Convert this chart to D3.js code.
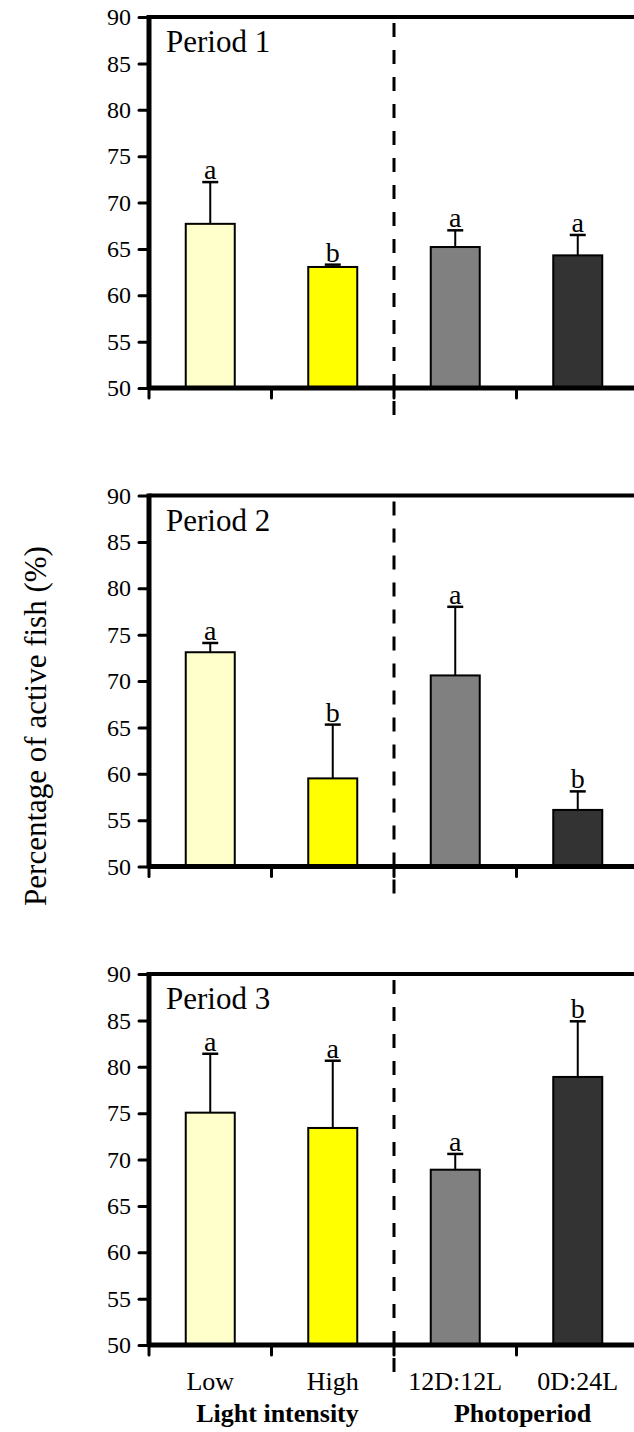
<!DOCTYPE html>
<html>
<head>
<meta charset="utf-8">
<script src="https://cdn.jsdelivr.net/npm/d3@7"></script>
<style>
  body { margin: 0; background: #fff; }
  svg text { font-family: "Liberation Serif", "DejaVu Serif", serif; fill: #000; }
</style>
</head>
<body>
<div id="chart"></div>
<script>
// data
const categories = ["Low", "High", "12D:12L", "0D:24L"];
const periods = ["Period 1", "Period 2", "Period 3"];
const means = [
  [67.7, 63.05, 65.2, 64.3],
  [73.1, 59.5, 70.6, 56.1],
  [75.05, 73.4, 68.9, 78.9]
];
const errors = [
  [4.5, 0.25, 1.8, 2.2],
  [1.0, 5.8, 7.4, 2.0],
  [6.35, 7.25, 1.7, 6.0]
];
const letters = [
  ["a", "b", "a", "a"],
  ["a", "b", "a", "b"],
  ["a", "a", "a", "b"]
];
const yTicks = [50, 55, 60, 65, 70, 75, 80, 85, 90];
const groups = ["Light intensity", "Photoperiod"];
const colors = ["#ffffcc", "#ffff00", "#808080", "#333333"];

const width = 634, height = 1432;
const left = 149, right = 639;
const panelTop = [17, 495.5, 974];
const panelH = 371;
const serif = "'Liberation Serif', 'DejaVu Serif', serif";

const svg = d3.select("#chart").append("svg")
    .attr("width", width)
    .attr("height", height)
    .attr("font-family", serif);

const x = d3.scaleBand()
    .domain(categories)
    .range([left, right])
    .paddingInner(0.6)
    .paddingOuter(0.3);

// band boundaries for the x ticks
const bounds = categories.map(c => x(c) - x.step() * 0.3).concat([right]);

periods.forEach((p, i) => {
  const top = panelTop[i];
  const bottom = top + panelH;
  const y = d3.scaleLinear().domain([50, 90]).range([bottom, top]);
  const g = svg.append("g");

  // y axis
  const yAxis = g.append("g")
      .attr("transform", `translate(${left},0)`)
      .call(d3.axisLeft(y).tickValues(yTicks).tickSize(10).tickPadding(8));
  yAxis.attr("font-family", serif).attr("font-size", 24);
  yAxis.select(".domain").remove();
  yAxis.selectAll(".tick line").attr("stroke", "#000").attr("stroke-width", 3).attr("stroke-linecap", "round");
  yAxis.selectAll(".tick text").attr("fill", "#000");

  // bars
  g.selectAll("rect.bar")
    .data(categories)
    .enter()
    .append("rect")
      .attr("class", "bar")
      .attr("x", d => x(d))
      .attr("width", x.bandwidth())
      .attr("y", (d, j) => y(means[i][j]))
      .attr("height", (d, j) => y(50) - y(means[i][j]))
      .attr("fill", (d, j) => colors[j])
      .attr("stroke", "#000")
      .attr("stroke-width", 2);

  // error bars
  const cx = d => x(d) + x.bandwidth() / 2;
  g.selectAll("line.err")
    .data(categories)
    .enter()
    .append("line")
      .attr("x1", cx).attr("x2", cx)
      .attr("y1", (d, j) => y(means[i][j]))
      .attr("y2", (d, j) => y(means[i][j] + errors[i][j]))
      .attr("stroke", "#000")
      .attr("stroke-width", 2);
  g.selectAll("line.cap")
    .data(categories)
    .enter()
    .append("line")
      .attr("x1", d => cx(d) - 8).attr("x2", d => cx(d) + 8)
      .attr("y1", (d, j) => y(means[i][j] + errors[i][j]))
      .attr("y2", (d, j) => y(means[i][j] + errors[i][j]))
      .attr("stroke", "#000")
      .attr("stroke-width", 2.5);

  // significance letters
  g.selectAll("text.sig")
    .data(categories)
    .enter()
    .append("text")
      .attr("x", cx)
      .attr("y", (d, j) => y(means[i][j] + errors[i][j]) - 3)
      .attr("text-anchor", "middle")
      .attr("font-size", 28)
      .text((d, j) => letters[i][j]);

  // frame: top line, left axis, bottom axis
  g.append("line")
      .attr("x1", left).attr("x2", right)
      .attr("y1", top).attr("y2", top)
      .attr("stroke", "#000").attr("stroke-width", 4);
  g.append("line")
      .attr("x1", left).attr("x2", left)
      .attr("y1", top - 2).attr("y2", bottom + 2)
      .attr("stroke", "#000").attr("stroke-width", 5);
  g.append("line")
      .attr("x1", left).attr("x2", right)
      .attr("y1", bottom).attr("y2", bottom)
      .attr("stroke", "#000").attr("stroke-width", 5);

  // x ticks at category boundaries
  g.selectAll("line.xt")
    .data(bounds)
    .enter()
    .append("line")
      .attr("x1", d => d).attr("x2", d => d)
      .attr("y1", bottom).attr("y2", bottom + 10)
      .attr("stroke", "#000").attr("stroke-width", 3).attr("stroke-linecap", "round");

  // dashed separator between the two treatments
  g.append("line")
      .attr("x1", bounds[2]).attr("x2", bounds[2])
      .attr("y1", top + 6).attr("y2", bottom + 34)
      .attr("stroke", "#000").attr("stroke-width", 3)
      .attr("stroke-dasharray", "14,13");

  g.append("text")
      .attr("x", left + 17)
      .attr("y", top + 35)
      .attr("font-size", 31)
      .text(p);
});

// category labels on the bottom panel
const lastBottom = panelTop[2] + panelH;
svg.selectAll("text.cat")
  .data(categories)
  .enter()
  .append("text")
    .attr("x", d => x(d) + x.bandwidth() / 2)
    .attr("y", lastBottom + 45)
    .attr("text-anchor", "middle")
    .attr("font-size", 26)
    .text(d => d);

svg.selectAll("text.grp")
  .data(groups)
  .enter()
  .append("text")
    .attr("x", (d, k) => (x(categories[2 * k]) + x(categories[2 * k + 1]) + x.bandwidth()) / 2 + 6)
    .attr("y", lastBottom + 77)
    .attr("text-anchor", "middle")
    .attr("font-size", 26)
    .attr("font-weight", "bold")
    .text(d => d);

svg.append("text")
    .attr("transform", `translate(46,726) rotate(-90)`)
    .attr("text-anchor", "middle")
    .attr("font-size", 31)
    .text("Percentage of active fish (%)");
</script>
</body>
</html>
